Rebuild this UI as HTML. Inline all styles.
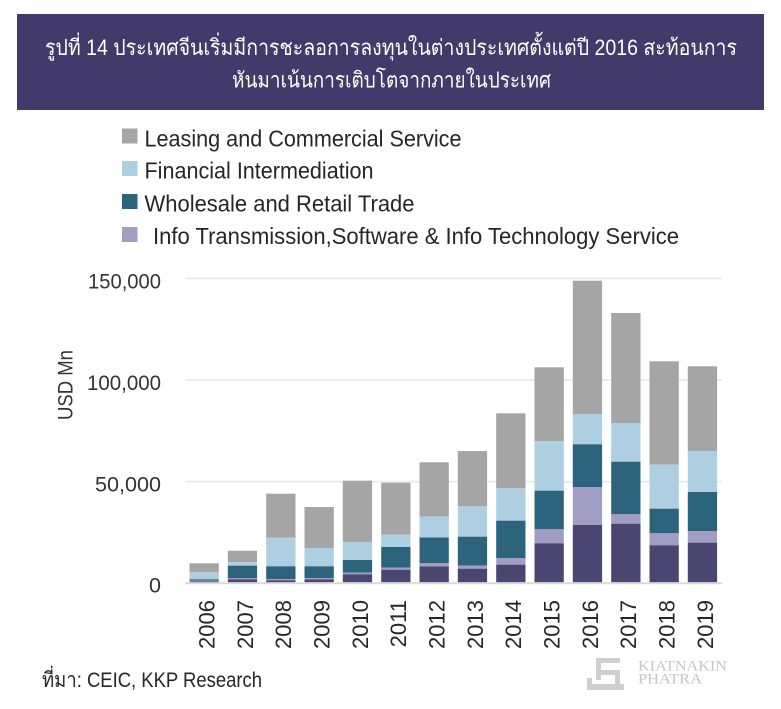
<!DOCTYPE html>
<html><head><meta charset="utf-8"><style>
html,body{margin:0;padding:0;background:#fff;}
svg{display:block;}
</style></head><body>
<svg width="781" height="709" viewBox="0 0 781 709" xmlns="http://www.w3.org/2000/svg">
<rect x="0" y="0" width="781" height="709" fill="#ffffff"/>
<!-- title box -->
<rect x="17" y="14" width="747" height="96" fill="#413a6a"/>
<text x="45" y="55" font-family="Liberation Sans, sans-serif" font-size="22" fill="#ffffff" textLength="692" lengthAdjust="spacingAndGlyphs">รูปที่ 14 ประเทศจีนเริ่มมีการชะลอการลงทุนในต่างประเทศตั้งแต่ปี 2016 สะท้อนการ</text>
<text x="232" y="87.5" font-family="Liberation Sans, sans-serif" font-size="22" fill="#ffffff" textLength="319" lengthAdjust="spacingAndGlyphs">หันมาเน้นการเติบโตจากภายในประเทศ</text>

<!-- legend -->
<g font-family="Liberation Sans, sans-serif" font-size="23" fill="#262626">
<rect x="122" y="128.5" width="15.5" height="15" fill="#a5a5a5"/>
<text x="144.5" y="146.5" textLength="317" lengthAdjust="spacingAndGlyphs">Leasing and Commercial Service</text>
<rect x="122" y="161" width="15.5" height="15" fill="#aecfe1"/>
<text x="144.5" y="178.5" textLength="229" lengthAdjust="spacingAndGlyphs">Financial Intermediation</text>
<rect x="122" y="194" width="15.5" height="15" fill="#2b647c"/>
<text x="144.5" y="211.5" textLength="270" lengthAdjust="spacingAndGlyphs">Wholesale and Retail Trade</text>
<rect x="122" y="227" width="15.5" height="15" fill="#a19ec4"/>
<text x="153" y="244" textLength="526" lengthAdjust="spacingAndGlyphs">Info Transmission,Software &amp; Info Technology Service</text>
</g>

<!-- gridlines -->
<g stroke="#ececec" stroke-width="2">
<line x1="185" y1="278.3" x2="722" y2="278.3"/>
<line x1="185" y1="380" x2="722" y2="380"/>
<line x1="185" y1="481.7" x2="722" y2="481.7"/>
</g>

<!-- y labels -->
<g font-family="Liberation Sans, sans-serif" font-size="21.5" fill="#333333" text-anchor="end">
<text x="161" y="288.5" textLength="73" lengthAdjust="spacingAndGlyphs">150,000</text>
<text x="161" y="390" textLength="74" lengthAdjust="spacingAndGlyphs">100,000</text>
<text x="161" y="491.5" textLength="66" lengthAdjust="spacingAndGlyphs">50,000</text>
<text x="161" y="592.5">0</text>
</g>
<text transform="translate(72.7,385) rotate(-90)" text-anchor="middle" font-family="Liberation Sans, sans-serif" font-size="21" fill="#333333" textLength="70" lengthAdjust="spacingAndGlyphs">USD Mn</text>

<!-- bars -->
<g id="bars">
<rect x="189.5" y="563.3" width="29.3" height="9" fill="#a5a5a5"/>
<rect x="189.5" y="572.3" width="29.3" height="7" fill="#aecfe1"/>
<rect x="189.5" y="579.3" width="29.3" height="1.4" fill="#2b647c"/>
<rect x="189.5" y="580.7" width="29.3" height="0.8" fill="#a19ec4"/>
<rect x="189.5" y="581.5" width="29.3" height="0.8" fill="#4a4671"/>

<rect x="227.8" y="550.7" width="29.3" height="11.3" fill="#a5a5a5"/>
<rect x="227.8" y="562" width="29.3" height="3.7" fill="#aecfe1"/>
<rect x="227.8" y="565.7" width="29.3" height="12.6" fill="#2b647c"/>
<rect x="227.8" y="578.3" width="29.3" height="1" fill="#a19ec4"/>
<rect x="227.8" y="579.3" width="29.3" height="3" fill="#4a4671"/>

<rect x="266.2" y="493.7" width="29.3" height="44" fill="#a5a5a5"/>
<rect x="266.2" y="537.7" width="29.3" height="28.6" fill="#aecfe1"/>
<rect x="266.2" y="566.3" width="29.3" height="12.7" fill="#2b647c"/>
<rect x="266.2" y="579" width="29.3" height="1.3" fill="#a19ec4"/>
<rect x="266.2" y="580.3" width="29.3" height="2" fill="#4a4671"/>

<rect x="304.5" y="507" width="29.3" height="41" fill="#a5a5a5"/>
<rect x="304.5" y="548" width="29.3" height="18.3" fill="#aecfe1"/>
<rect x="304.5" y="566.3" width="29.3" height="11.7" fill="#2b647c"/>
<rect x="304.5" y="578" width="29.3" height="1.3" fill="#a19ec4"/>
<rect x="304.5" y="579.3" width="29.3" height="3" fill="#4a4671"/>

<rect x="342.8" y="480.7" width="29.3" height="61.3" fill="#a5a5a5"/>
<rect x="342.8" y="542" width="29.3" height="18" fill="#aecfe1"/>
<rect x="342.8" y="560" width="29.3" height="12.7" fill="#2b647c"/>
<rect x="342.8" y="572.7" width="29.3" height="1.6" fill="#a19ec4"/>
<rect x="342.8" y="574.3" width="29.3" height="8" fill="#4a4671"/>

<rect x="381.2" y="482.7" width="29.3" height="52" fill="#a5a5a5"/>
<rect x="381.2" y="534.7" width="29.3" height="12.3" fill="#aecfe1"/>
<rect x="381.2" y="547" width="29.3" height="20.7" fill="#2b647c"/>
<rect x="381.2" y="567.7" width="29.3" height="2" fill="#a19ec4"/>
<rect x="381.2" y="569.7" width="29.3" height="12.6" fill="#4a4671"/>

<rect x="419.5" y="462.3" width="29.3" height="54.4" fill="#a5a5a5"/>
<rect x="419.5" y="516.7" width="29.3" height="20.8" fill="#aecfe1"/>
<rect x="419.5" y="537.5" width="29.3" height="25.8" fill="#2b647c"/>
<rect x="419.5" y="563.3" width="29.3" height="3.2" fill="#a19ec4"/>
<rect x="419.5" y="566.5" width="29.3" height="15.8" fill="#4a4671"/>

<rect x="457.8" y="451" width="29.3" height="55" fill="#a5a5a5"/>
<rect x="457.8" y="506" width="29.3" height="30.7" fill="#aecfe1"/>
<rect x="457.8" y="536.7" width="29.3" height="29" fill="#2b647c"/>
<rect x="457.8" y="565.7" width="29.3" height="3" fill="#a19ec4"/>
<rect x="457.8" y="568.7" width="29.3" height="13.6" fill="#4a4671"/>

<rect x="496.2" y="413.3" width="29.3" height="75" fill="#a5a5a5"/>
<rect x="496.2" y="488.3" width="29.3" height="32.4" fill="#aecfe1"/>
<rect x="496.2" y="520.7" width="29.3" height="37.3" fill="#2b647c"/>
<rect x="496.2" y="558" width="29.3" height="6.7" fill="#a19ec4"/>
<rect x="496.2" y="564.7" width="29.3" height="17.6" fill="#4a4671"/>

<rect x="534.5" y="367.3" width="29.3" height="73.7" fill="#a5a5a5"/>
<rect x="534.5" y="441" width="29.3" height="49.7" fill="#aecfe1"/>
<rect x="534.5" y="490.7" width="29.3" height="38.6" fill="#2b647c"/>
<rect x="534.5" y="529.3" width="29.3" height="14" fill="#a19ec4"/>
<rect x="534.5" y="543.3" width="29.3" height="39" fill="#4a4671"/>

<rect x="572.8" y="280.7" width="29.3" height="133.3" fill="#a5a5a5"/>
<rect x="572.8" y="414" width="29.3" height="30.3" fill="#aecfe1"/>
<rect x="572.8" y="444.3" width="29.3" height="42.7" fill="#2b647c"/>
<rect x="572.8" y="487" width="29.3" height="38" fill="#a19ec4"/>
<rect x="572.8" y="525" width="29.3" height="57.3" fill="#4a4671"/>

<rect x="611.2" y="313" width="29.3" height="110" fill="#a5a5a5"/>
<rect x="611.2" y="423" width="29.3" height="38.7" fill="#aecfe1"/>
<rect x="611.2" y="461.7" width="29.3" height="52.6" fill="#2b647c"/>
<rect x="611.2" y="514.3" width="29.3" height="9.4" fill="#a19ec4"/>
<rect x="611.2" y="523.7" width="29.3" height="58.6" fill="#4a4671"/>

<rect x="649.5" y="361.3" width="29.3" height="103.4" fill="#a5a5a5"/>
<rect x="649.5" y="464.7" width="29.3" height="44" fill="#aecfe1"/>
<rect x="649.5" y="508.7" width="29.3" height="24.6" fill="#2b647c"/>
<rect x="649.5" y="533.3" width="29.3" height="12" fill="#a19ec4"/>
<rect x="649.5" y="545.3" width="29.3" height="37" fill="#4a4671"/>

<rect x="687.8" y="366.3" width="29.3" height="84.7" fill="#a5a5a5"/>
<rect x="687.8" y="451" width="29.3" height="41" fill="#aecfe1"/>
<rect x="687.8" y="492" width="29.3" height="39" fill="#2b647c"/>
<rect x="687.8" y="531" width="29.3" height="11.7" fill="#a19ec4"/>
<rect x="687.8" y="542.7" width="29.3" height="39.6" fill="#4a4671"/>
</g>

<!-- axis -->
<line x1="185" y1="583.3" x2="722" y2="583.3" stroke="#d9d9d9" stroke-width="2"/>

<!-- x labels -->
<g font-family="Liberation Sans, sans-serif" font-size="22" fill="#262626" text-anchor="end">
<text transform="translate(214.5,600) rotate(-90)">2006</text>
<text transform="translate(252.8,600) rotate(-90)">2007</text>
<text transform="translate(291.2,600) rotate(-90)">2008</text>
<text transform="translate(329.5,600) rotate(-90)">2009</text>
<text transform="translate(367.8,600) rotate(-90)">2010</text>
<text transform="translate(406.2,600) rotate(-90)">2011</text>
<text transform="translate(444.5,600) rotate(-90)">2012</text>
<text transform="translate(482.8,600) rotate(-90)">2013</text>
<text transform="translate(521.2,600) rotate(-90)">2014</text>
<text transform="translate(559.5,600) rotate(-90)">2015</text>
<text transform="translate(597.8,600) rotate(-90)">2016</text>
<text transform="translate(636.2,600) rotate(-90)">2017</text>
<text transform="translate(674.5,600) rotate(-90)">2018</text>
<text transform="translate(712.8,600) rotate(-90)">2019</text>
</g>

<!-- footer -->
<text x="42" y="687" font-family="Liberation Sans, sans-serif" font-size="21" fill="#262626" textLength="220" lengthAdjust="spacingAndGlyphs">ที่มา: CEIC, KKP Research</text>

<!-- logo -->
<g fill="#cfcfcf">
<rect x="596" y="658" width="24" height="5"/>
<rect x="596" y="658" width="5" height="22"/>
<rect x="596" y="670" width="24" height="5"/>
<rect x="615" y="670" width="5" height="15"/>
<rect x="587" y="684" width="37" height="6"/>
<rect x="587" y="678" width="5" height="8"/>
</g>
<g font-family="Liberation Serif, serif" font-size="15" fill="#c6c6c6">
<text x="638" y="670.5" textLength="89" lengthAdjust="spacingAndGlyphs">KIATNAKIN</text>
<text x="638" y="683.5" textLength="64" lengthAdjust="spacingAndGlyphs">PHATRA</text>
</g>
</svg>
</body></html>
